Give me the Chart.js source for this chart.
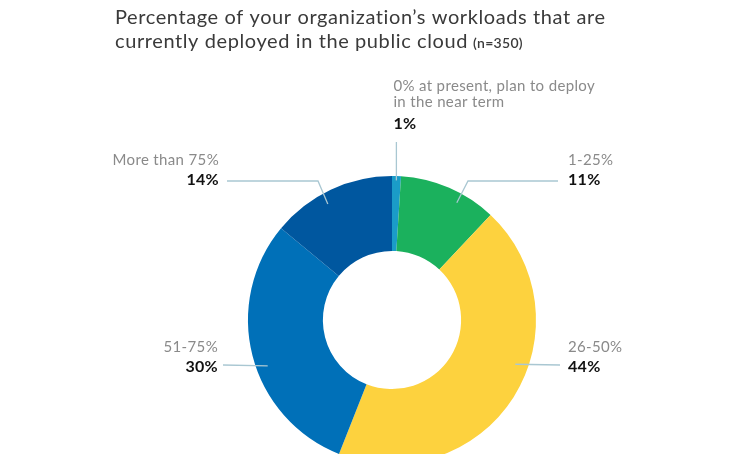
<!DOCTYPE html>
<html>
<head>
<meta charset="utf-8">
<script src="https://cdn.jsdelivr.net/npm/chart.js@4.4.1/dist/chart.umd.min.js"></script>
<style>
  html, body { margin: 0; padding: 0; background: #fff; overflow: hidden; width: 730px; height: 454px; }
  #wrap { position: absolute; left: 0; top: 0; width: 730px; height: 500px; }
</style>
</head>
<body>
<div id="wrap"><canvas id="chart"></canvas></div>
<script>
// data
var categories = ['0% at present, plan to deploy in the near term', '1-25%', '26-50%', '51-75%', 'More than 75%'];
var categoryLines = [['0% at present, plan to deploy', 'in the near term'], ['1-25%'], ['26-50%'], ['51-75%'], ['More than 75%']];
var values = [1, 11, 44, 30, 14];
var valueLabels = ['1%', '11%', '44%', '30%', '14%'];
var titleLines = ['Percentage of your organization\u2019s workloads that are', 'currently deployed in the public cloud'];
var titleNote = '(n=350)';

var colors = ['#1a9cc8', '#1bb15d', '#fdd23e', '#0070b8', '#00579f'];
var FONT = 'Lato, "Noto Sans", sans-serif';
var LINE = '#a9c7d2';

// callout layout, relative to the doughnut centre (t = position inside the slice)
var callouts = [
  { t: 0.5,  rf: 0.97, end: null,        elbow: null,       tx: 1,    align: 'left',  ty: [-229, -213, -191], vertical: -178 },
  { t: 0.64, rf: 0.93, end: [166, -139], elbow: [76, -139], tx: 176,  align: 'left',  ty: [-155, -135] },
  { t: 0.42, rf: 0.91, end: [168, 45],   elbow: null,       tx: 176,  align: 'left',  ty: [32, 52] },
  { t: 0.446, rf: 0.92, end: [-169, 45], elbow: null,       tx: -174, align: 'right', ty: [32, 52] },
  { t: 0.425, rf: 0.92, end: [-165, -139], elbow: [-74, -139], tx: -173, align: 'right', ty: [-155, -135] }
];

var calloutPlugin = {
  id: 'callouts',
  afterDraw: function(chart) {
    var ctx = chart.ctx;
    var meta = chart.getDatasetMeta(0);
    ctx.save();

    // title
    ctx.fillStyle = '#3a3a3a';
    ctx.textAlign = 'left';
    ctx.textBaseline = 'alphabetic';
    ctx.font = '20px ' + FONT;
    ctx.letterSpacing = '0.6px';
    ctx.fillText(titleLines[0], 115, 24);
    ctx.fillText(titleLines[1], 115, 48);
    var w = ctx.measureText(titleLines[1]).width;
    ctx.font = '600 14px ' + FONT;
    ctx.letterSpacing = '0.3px';
    ctx.fillText(titleNote, 115 + w + 5, 48);

    meta.data.forEach(function(arc, i) {
      var c = callouts[i];
      var cx = arc.x, cy = arc.y, R = arc.outerRadius;
      var a = arc.startAngle + c.t * (arc.endAngle - arc.startAngle);
      var ax = cx + Math.cos(a) * R * c.rf;
      var ay = cy + Math.sin(a) * R * c.rf;

      ctx.strokeStyle = LINE;
      ctx.lineWidth = 1.3;
      ctx.beginPath();
      ctx.moveTo(ax, ay);
      if (c.vertical != null) {
        ctx.lineTo(ax, cy + c.vertical);
      } else {
        if (c.elbow) ctx.lineTo(cx + c.elbow[0], cy + c.elbow[1]);
        ctx.lineTo(cx + c.end[0], cy + c.end[1]);
      }
      ctx.stroke();

      var lines = categoryLines[i];
      var x = (c.vertical != null) ? ax + c.tx - 4 : cx + c.tx;
      ctx.textAlign = c.align;
      ctx.font = '15px ' + FONT;
      ctx.letterSpacing = '0.35px';
      ctx.fillStyle = '#8a8a8a';
      for (var k = 0; k < lines.length; k++) {
        ctx.fillText(lines[k], x, cy + c.ty[k]);
      }
      ctx.font = 'bold 16px ' + FONT;
      ctx.letterSpacing = '0.3px';
      ctx.fillStyle = '#111111';
      ctx.fillText(valueLabels[i], x, cy + c.ty[lines.length]);
    });
    ctx.restore();
  }
};

new Chart(document.getElementById('chart'), {
  type: 'doughnut',
  data: {
    labels: categories,
    datasets: [{
      data: values,
      backgroundColor: colors,
      borderWidth: 0
    }]
  },
  options: {
    responsive: true,
    maintainAspectRatio: false,
    animation: false,
    cutout: '48%',
    layout: { padding: { left: 248, right: 194, top: 176, bottom: 36 } },
    plugins: {
      legend: { display: false },
      tooltip: { enabled: false },
      title: { display: false }
    }
  },
  plugins: [calloutPlugin]
});
</script>
</body>
</html>
